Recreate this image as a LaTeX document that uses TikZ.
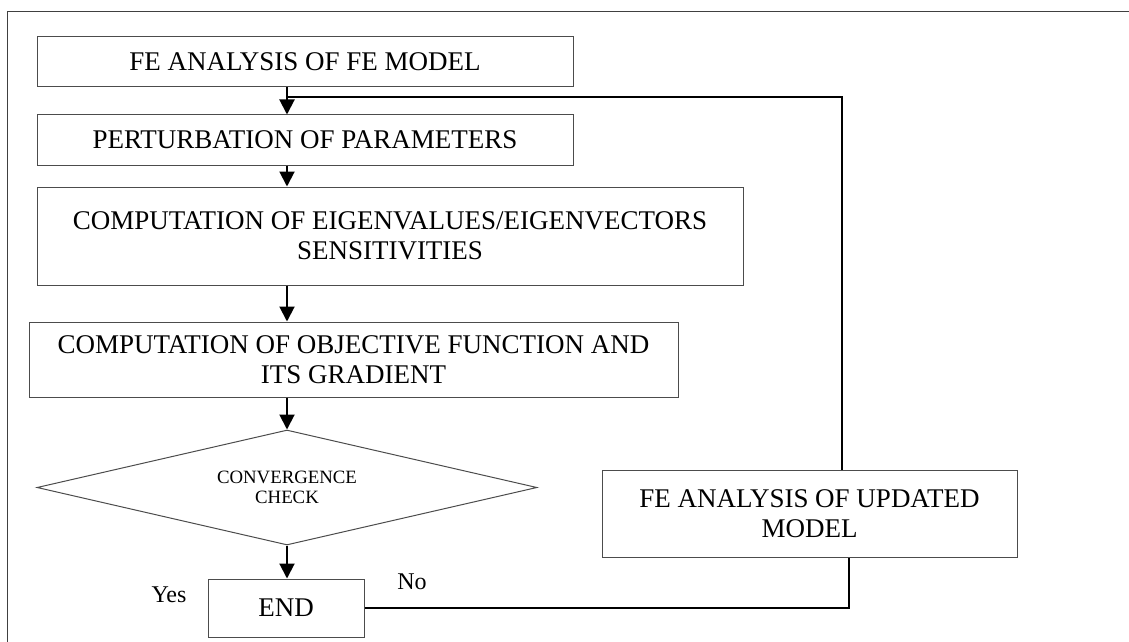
\documentclass[tikz,border=0pt]{standalone}
\usepackage{fontspec}
\setmainfont{Liberation Serif}
\usetikzlibrary{shapes.geometric,arrows.meta}

\tikzset{
  Block/.style={draw=black!70,line width=0.5pt,align=center,inner sep=0pt,font=\fontsize{13.5}{15}\selectfont},
  Decision/.style={Block,diamond,aspect=4.35,font=\fontsize{9.4}{10}\selectfont},
  Flow/.style={line width=1pt,-{Triangle[length=7.5pt,width=7.5pt]}},
  Back/.style={line width=1pt},
  Tag/.style={anchor=base,font=\fontsize{12}{13}\selectfont}
}

\begin{document}
\begin{tikzpicture}[x=0.5pt,y=-0.5pt]
\useasboundingbox (0,0) rectangle (1129,642);
\draw[draw=black!75,line width=0.5pt] (1129,12) -- (7,12) -- (7,642);
\node[Block,minimum width=268pt,minimum height=25pt] (fe) at (305,62) {FE ANALYSIS OF FE MODEL};
\node[Block,minimum width=268pt,minimum height=25pt] (pert) at (305,140) {PERTURBATION OF PARAMETERS};
\node[Block,minimum width=353pt,minimum height=49pt] (eig) at (390,236) {COMPUTATION OF EIGENVALUES/EIGENVECTORS\\SENSITIVITIES};
\node[Block,minimum width=324.5pt,minimum height=37.5pt] (obj) at (353.5,359.5) {COMPUTATION OF OBJECTIVE FUNCTION AND\\ITS GRADIENT};
\node[Decision,minimum width=250pt,minimum height=57.5pt] (conv) at (287,487.5) {CONVERGENCE\\CHECK};
\node[Block,minimum width=78pt,minimum height=29pt] (endb) at (286,608) {END};
\node[Block,minimum width=207.5pt,minimum height=43.5pt] (upd) at (809.5,513.5) {FE ANALYSIS OF UPDATED\\MODEL};
\node[Tag] (yes) at (169,602) {Yes};
\node[Tag] (no) at (412,589) {No};
\coordinate (merge) at (287,97);
\draw[Flow] (fe.south -| conv) -- (pert.north -| conv);
\draw[Flow] (pert.south -| conv) -- (eig.north -| conv);
\draw[Flow] (eig.south -| conv) -- (obj.north -| conv);
\draw[Flow] (obj.south -| conv) -- (conv.north);
\draw[Flow] (conv.south) -- (endb.north -| conv.south);
\draw[Back] ([xshift=16.25pt]upd.north) |- (merge);
\draw[Back] (endb.east) -| ([xshift=19.75pt]upd.south);
\end{tikzpicture}
\end{document}
